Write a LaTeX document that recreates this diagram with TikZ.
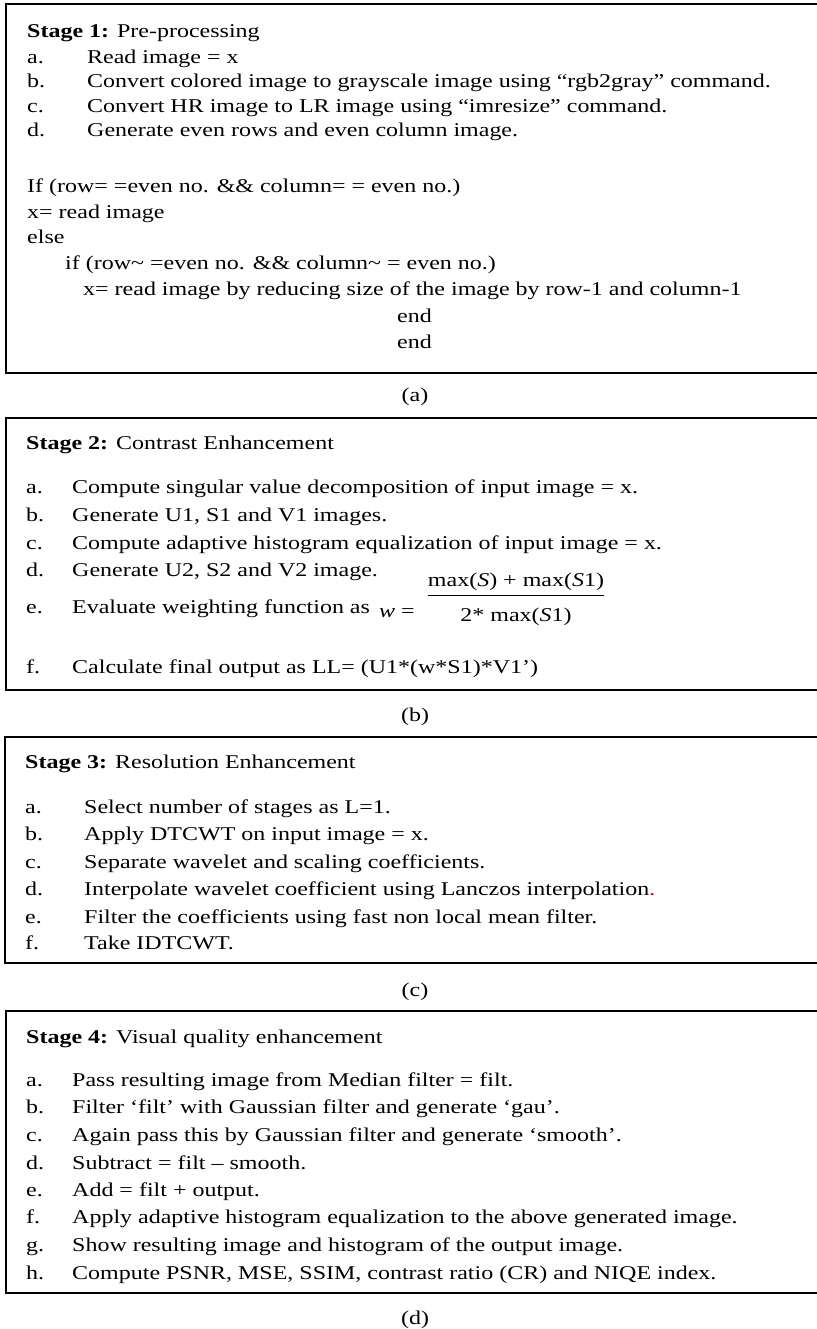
\documentclass[tikz,border=0pt]{standalone}
\usepackage{amsmath}
\usepackage{fontspec}
\setmainfont{Liberation Serif}[FakeStretch=1.23]
\usepackage{tikz}

\tikzset{
  stagebox/.style={draw, line width=1.6pt},
  txt/.style={anchor=base west, inner sep=0pt, font=\fontsize{19.5}{23}\selectfont},
  capt/.style={anchor=base, inner sep=0pt, font=\fontsize{19.5}{23}\selectfont},
}

\begin{document}
\begin{tikzpicture}[x=1pt, y=-1pt]
  \useasboundingbox (0,0) rectangle (816,1329);

  % stage 1 box
  \draw[stagebox] (6,4) rectangle (818,373);
  \node[txt] (s1title) at (27,38) {\textbf{Stage 1:} Pre-processing};
  \node[txt] (s1a) at (27,64) {a.};
  \node[txt] (s1atxt) at (87,64) {Read image = x};
  \node[txt] (s1b) at (27,88) {b.};
  \node[txt] (s1btxt) at (87,88) {Convert colored image to grayscale image using “rgb2gray” command.};
  \node[txt] (s1c) at (27,113) {c.};
  \node[txt] (s1ctxt) at (87,113) {Convert HR image to LR image using “imresize” command.};
  \node[txt] (s1d) at (27,137) {d.};
  \node[txt] (s1dtxt) at (87,137) {Generate even rows and even column image.};
  \node[txt] (s1if) at (27,193) {If (row= =even no. \&\& column= = even no.)};
  \node[txt] (s1read) at (27,219) {x= read image};
  \node[txt] (s1else) at (27,244) {else};
  \node[txt] (s1ifb) at (65,270) {if (row\char`~\ =even no. \&\& column\char`~\ = even no.)};
  \node[txt] (s1readb) at (83,296) {x= read image by reducing size of the image by row-1 and column-1};
  \node[txt] (s1enda) at (397,322) {end};
  \node[txt] (s1endb) at (397,348) {end};
  \node[capt] (capa) at (415,401) {(a)};

  % stage 2 box
  \draw[stagebox] (6,418) rectangle (818,690);
  \node[txt] (s2title) at (26,449) {\textbf{Stage 2:} Contrast Enhancement};
  \node[txt] (s2a) at (26,493) {a.};
  \node[txt] (s2atxt) at (72,493) {Compute singular value decomposition of input image = x.};
  \node[txt] (s2b) at (26,521) {b.};
  \node[txt] (s2btxt) at (72,521) {Generate U1, S1 and V1 images.};
  \node[txt] (s2c) at (26,549) {c.};
  \node[txt] (s2ctxt) at (72,549) {Compute adaptive histogram equalization of input image = x.};
  \node[txt] (s2d) at (26,576) {d.};
  \node[txt] (s2dtxt) at (72,576) {Generate U2, S2 and V2 image.};
  \node[txt] (s2e) at (26,613) {e.};
  \node[txt] (s2etxt) at (72,613) {Evaluate weighting function as};
  % weighting function, set in the text font
  \node[txt] (s2w) at (379,617) {\textit{w} =};
  \node[capt] (s2frac) at (516,601) {$\dfrac{\text{max(\textit{S}) + max(\textit{S}1)}}{\rule{0pt}{23pt}\text{2* max(\textit{S}1)}}$};
  \node[txt] (s2f) at (26,673) {f.};
  \node[txt] (s2ftxt) at (72,673) {Calculate final output as LL= (U1*(w*S1)*V1’)};
  \node[capt] (capb) at (415,721) {(b)};

  % stage 3 box
  \draw[stagebox] (5,737) rectangle (818,963);
  \node[txt] (s3title) at (25,768) {\textbf{Stage 3:} Resolution Enhancement};
  \node[txt] (s3a) at (25,813) {a.};
  \node[txt] (s3atxt) at (84,813) {Select number of stages as L=1.};
  \node[txt] (s3b) at (25,840) {b.};
  \node[txt] (s3btxt) at (84,840) {Apply DTCWT on input image = x.};
  \node[txt] (s3c) at (25,868) {c.};
  \node[txt] (s3ctxt) at (84,868) {Separate wavelet and scaling coefficients.};
  \node[txt] (s3d) at (25,895) {d.};
  \node[txt] (s3dtxt) at (84,895) {Interpolate wavelet coefficient using Lanczos interpolation\textcolor{red}{.}};
  \node[txt] (s3e) at (25,923) {e.};
  \node[txt] (s3etxt) at (84,923) {Filter the coefficients using fast non local mean filter.};
  \node[txt] (s3f) at (25,949) {f.};
  \node[txt] (s3ftxt) at (84,949) {Take IDTCWT.};
  \node[capt] (capc) at (415,996) {(c)};

  % stage 4 box
  \draw[stagebox] (6,1011) rectangle (818,1293);
  \node[txt] (s4title) at (26,1043) {\textbf{Stage 4:} Visual quality enhancement};
  \node[txt] (s4a) at (26,1086) {a.};
  \node[txt] (s4atxt) at (72,1086) {Pass resulting image from Median filter = filt.};
  \node[txt] (s4b) at (26,1113) {b.};
  \node[txt] (s4btxt) at (72,1113) {Filter ‘filt’ with Gaussian filter and generate ‘gau’.};
  \node[txt] (s4c) at (26,1141) {c.};
  \node[txt] (s4ctxt) at (72,1141) {Again pass this by Gaussian filter and generate ‘smooth’.};
  \node[txt] (s4d) at (26,1169) {d.};
  \node[txt] (s4dtxt) at (72,1169) {Subtract = filt – smooth.};
  \node[txt] (s4e) at (26,1196) {e.};
  \node[txt] (s4etxt) at (72,1196) {Add = filt + output.};
  \node[txt] (s4f) at (26,1223) {f.};
  \node[txt] (s4ftxt) at (72,1223) {Apply adaptive histogram equalization to the above generated image.};
  \node[txt] (s4g) at (26,1251) {g.};
  \node[txt] (s4gtxt) at (72,1251) {Show resulting image and histogram of the output image.};
  \node[txt] (s4h) at (26,1279) {h.};
  \node[txt] (s4htxt) at (72,1279) {Compute PSNR, MSE, SSIM, contrast ratio (CR) and NIQE index.};
  \node[capt] (capd) at (415,1324) {(d)};
\end{tikzpicture}
\end{document}
